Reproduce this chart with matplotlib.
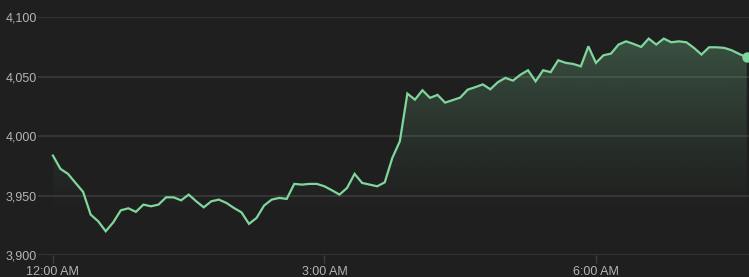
import numpy as np
import matplotlib.pyplot as plt
from matplotlib.colors import to_rgb
import matplotlib.ticker as mticker

# index level, 5-minute samples starting 12:00 AM
values = [
    3983.8, 3972.6, 3968.4, 3960.8, 3953.3, 3934.2, 3928.6, 3920.2, 3927.7, 3937.8,
    3939.5, 3936.5, 3942.6, 3941.2, 3942.6, 3948.7, 3948.7, 3946.2, 3951.0, 3945.4,
    3940.3, 3945.4, 3946.8, 3944.0, 3939.8, 3936.1, 3926.4, 3931.4, 3941.8, 3946.8,
    3948.2, 3947.4, 3960.0, 3959.4, 3960.0, 3960.0, 3958.0, 3954.6, 3951.0, 3956.6,
    3968.4, 3960.8, 3959.4, 3958.0, 3961.3, 3981.8, 3995.8, 4035.9, 4030.8, 4038.7,
    4032.3, 4034.8, 4028.3, 4030.4, 4032.5, 4039.2, 4041.3, 4043.6, 4039.5, 4045.5,
    4049.1, 4046.8, 4051.8, 4055.5, 4046.2, 4055.5, 4053.9, 4063.9, 4061.7, 4060.8,
    4058.8, 4075.6, 4061.7, 4068.1, 4069.5, 4077.1, 4079.8, 4077.6, 4075.1, 4082.1,
    4077.1, 4082.1, 4079.0, 4079.8, 4079.0, 4074.3, 4068.7, 4074.8, 4074.8, 4074.3,
    4072.3, 4069.2, 4066.4,
]
minutes = np.arange(len(values)) * 5
tick_minutes = [0, 180, 360]
tick_labels = ["12:00 AM", "3:00 AM", "6:00 AM"]
y_ticks = [3900, 3950, 4000, 4050, 4100]

bg = "#1f1f1f"
line_color = "#80d69c"
grid_color = "#3c3c3c"
text_color = "#b4b4b4"

plt.rcParams["font.family"] = ["Liberation Sans", "DejaVu Sans"]

fig = plt.figure(figsize=(7.49, 2.77), dpi=100, facecolor=bg)
W, H = 749, 277
ax = fig.add_axes([38 / W, (H - 255.3) / H, (W - 38) / W, (255.3 - 17.3) / H])
ax.set_facecolor(bg)

xmin, xmax = -9.9, 461.5
ymin, ymax = 3900, 4100
ax.set_xlim(xmin, xmax)
ax.set_ylim(ymin, ymax)

# gradient fill under the line
r, g, b = to_rgb(line_color)
n = 256
alpha = np.linspace(0, 1, n)
alpha = np.clip((alpha - 0.15) / 0.85, 0, 1) ** 1.3 * 0.32
grad = np.zeros((n, 1, 4))
grad[:, 0, 0] = r
grad[:, 0, 1] = g
grad[:, 0, 2] = b
grad[:, 0, 3] = alpha
im = ax.imshow(grad, extent=[minutes[0], minutes[-1], ymin, ymax], origin="lower",
               aspect="auto", zorder=1, interpolation="bilinear")
poly = ax.fill_between(minutes, values, ymin, facecolor="none", edgecolor="none")
clip = poly.get_paths()[0]
im.set_clip_path(clip, transform=ax.transData)

ax.plot(minutes, values, color=line_color, linewidth=1.6, zorder=3,
        solid_joinstyle="miter")
ax.plot(minutes[-1], values[-1], "o", color=line_color, markersize=6.5,
        zorder=4, clip_on=False)

for yv in y_ticks:
    ax.axhline(yv, color=grid_color, linewidth=1.1, zorder=0)

ax.set_yticks(y_ticks)
ax.yaxis.set_major_formatter(mticker.FuncFormatter(lambda v, _: f"{v:,.0f}"))
ax.set_xticks(tick_minutes)
ax.set_xticklabels(tick_labels)
ax.tick_params(axis="y", length=0, pad=1, labelsize=9, labelcolor=text_color)
ax.tick_params(axis="x", length=6, width=1, color=grid_color, pad=2,
               labelsize=9, labelcolor=text_color)
for s in ax.spines.values():
    s.set_visible(False)

fig.savefig("out.png", dpi=100, facecolor=bg)
